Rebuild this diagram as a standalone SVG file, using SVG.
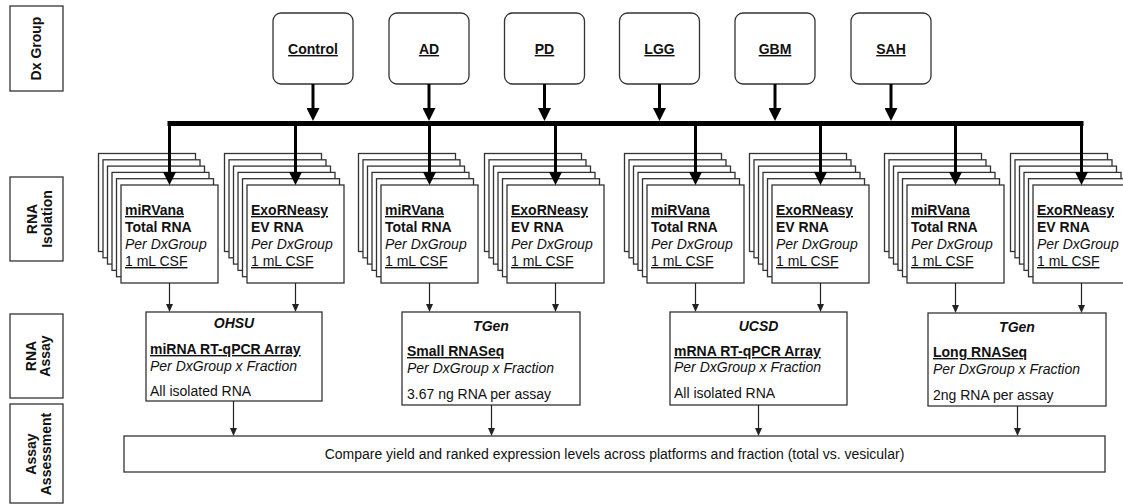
<svg xmlns="http://www.w3.org/2000/svg" xmlns:xlink="http://www.w3.org/1999/xlink" width="1123" height="504" viewBox="0 0 1123 504">
<style>
  text { font-family: "Liberation Sans", Arial, Helvetica, sans-serif; font-size: 14px; fill: #111; }
  .b { font-weight: bold; }
  .i { font-style: italic; }
  .bi { font-weight: bold; font-style: italic; }
  .u { text-decoration: underline; }
  .mid { text-anchor: middle; }
  .box { fill: #fff; stroke: #333; stroke-width: 1.3; }
  .lbl { fill: #fff; stroke: #333; stroke-width: 1.3; }
  .thick { stroke: #000; stroke-width: 3; fill: none; }
  .thin { stroke: #222; stroke-width: 1.2; fill: none; }
  .bus { stroke: #000; stroke-width: 5; fill: none; }
</style>
<defs>
  <marker id="bigHead" markerUnits="userSpaceOnUse" markerWidth="13" markerHeight="13" refX="0" refY="6.5" orient="auto">
    <path d="M0,0 L13,6.5 L0,13 z" fill="#000"/>
  </marker>
  <marker id="smallHead" markerUnits="userSpaceOnUse" markerWidth="8" markerHeight="7" refX="0" refY="3.5" orient="auto">
    <path d="M0,0 L8,3.5 L0,7 z" fill="#222"/>
  </marker>
  <g id="stack">
    <rect class="box" x="-22.5" y="-31.5" width="97" height="98"/>
    <rect class="box" x="-18" y="-25.2" width="97" height="98"/>
    <rect class="box" x="-13.5" y="-18.9" width="97" height="98"/>
    <rect class="box" x="-9" y="-12.6" width="97" height="98"/>
    <rect class="box" x="-4.5" y="-6.3" width="97" height="98"/>
    <rect class="box" x="0" y="0" width="97" height="98"/>
  </g>
</defs>

<rect width="1123" height="504" fill="#fff"/>

<!-- Row labels -->
<g id="label-dx">
  <rect class="lbl" x="10" y="6" width="53" height="85"/>
  <text class="b mid" transform="translate(41,48.5) rotate(-90)">Dx Group</text>
</g>
<g id="label-isolation">
  <rect class="lbl" x="10" y="177" width="53" height="84"/>
  <text class="b mid" transform="translate(37,219) rotate(-90)">RNA</text>
  <text class="b mid" transform="translate(52,219) rotate(-90)">Isolation</text>
</g>
<g id="label-assay">
  <rect class="lbl" x="10" y="314" width="53" height="84"/>
  <text class="b mid" transform="translate(36,356) rotate(-90)">RNA</text>
  <text class="b mid" transform="translate(50,356) rotate(-90)">Assay</text>
</g>
<g id="label-assessment">
  <rect class="lbl" x="10" y="404" width="53" height="99"/>
  <text class="b mid" transform="translate(36,454) rotate(-90)">Assay</text>
  <text class="b mid" transform="translate(51,454) rotate(-90)">Assessment</text>
</g>

<!-- Dx group nodes -->
<g id="node-control"><rect class="box" x="273" y="13" width="80" height="71" rx="8"/><text class="b u mid" x="313" y="54">Control</text></g>
<g id="node-ad"><rect class="box" x="389" y="13" width="80" height="71" rx="8"/><text class="b u mid" x="429" y="54">AD</text></g>
<g id="node-pd"><rect class="box" x="504.5" y="13" width="80" height="71" rx="8"/><text class="b u mid" x="544.5" y="54">PD</text></g>
<g id="node-lgg"><rect class="box" x="619.5" y="13" width="80" height="71" rx="8"/><text class="b u mid" x="659.5" y="54">LGG</text></g>
<g id="node-gbm"><rect class="box" x="735" y="13" width="80" height="71" rx="8"/><text class="b u mid" x="775" y="54">GBM</text></g>
<g id="node-sah"><rect class="box" x="851" y="13" width="80" height="71" rx="8"/><text class="b u mid" x="891" y="54">SAH</text></g>

<!-- RNA isolation stacks -->
<g id="iso-1"><use xlink:href="#stack" x="121" y="185"/>
  <text x="125" y="215" class="b u">miRVana</text><text x="125" y="232" class="b">Total RNA</text><text x="125" y="249" class="i">Per DxGroup</text><text x="125" y="266" class="u">1 mL CSF</text></g>
<g id="iso-2"><use xlink:href="#stack" x="247" y="185"/>
  <text x="251" y="215" class="b u">ExoRNeasy</text><text x="251" y="232" class="b">EV RNA</text><text x="251" y="249" class="i">Per DxGroup</text><text x="251" y="266" class="u">1 mL CSF</text></g>
<g id="iso-3"><use xlink:href="#stack" x="381" y="185"/>
  <text x="385" y="215" class="b u">miRVana</text><text x="385" y="232" class="b">Total RNA</text><text x="385" y="249" class="i">Per DxGroup</text><text x="385" y="266" class="u">1 mL CSF</text></g>
<g id="iso-4"><use xlink:href="#stack" x="507" y="185"/>
  <text x="511" y="215" class="b u">ExoRNeasy</text><text x="511" y="232" class="b">EV RNA</text><text x="511" y="249" class="i">Per DxGroup</text><text x="511" y="266" class="u">1 mL CSF</text></g>
<g id="iso-5"><use xlink:href="#stack" x="647" y="185"/>
  <text x="651" y="215" class="b u">miRVana</text><text x="651" y="232" class="b">Total RNA</text><text x="651" y="249" class="i">Per DxGroup</text><text x="651" y="266" class="u">1 mL CSF</text></g>
<g id="iso-6"><use xlink:href="#stack" x="772" y="185"/>
  <text x="776" y="215" class="b u">ExoRNeasy</text><text x="776" y="232" class="b">EV RNA</text><text x="776" y="249" class="i">Per DxGroup</text><text x="776" y="266" class="u">1 mL CSF</text></g>
<g id="iso-7"><use xlink:href="#stack" x="907" y="185"/>
  <text x="911" y="215" class="b u">miRVana</text><text x="911" y="232" class="b">Total RNA</text><text x="911" y="249" class="i">Per DxGroup</text><text x="911" y="266" class="u">1 mL CSF</text></g>
<g id="iso-8"><use xlink:href="#stack" x="1033" y="185"/>
  <text x="1037" y="215" class="b u">ExoRNeasy</text><text x="1037" y="232" class="b">EV RNA</text><text x="1037" y="249" class="i">Per DxGroup</text><text x="1037" y="266" class="u">1 mL CSF</text></g>

<!-- RNA assay boxes -->
<g id="assay-ohsu"><rect class="box" x="146" y="312" width="176" height="89"/>
  <text class="bi mid" x="234" y="328">OHSU</text>
  <text class="b u" x="150" y="354">miRNA RT-qPCR Array</text>
  <text class="i" x="150" y="371">Per DxGroup x Fraction</text>
  <text x="150" y="396">All isolated RNA</text></g>
<g id="assay-tgen-small"><rect class="box" x="402" y="312" width="178" height="93"/>
  <text class="bi mid" x="491" y="331">TGen</text>
  <text class="b u" x="407" y="356">Small RNASeq</text>
  <text class="i" x="407" y="373">Per DxGroup x Fraction</text>
  <text x="407" y="399">3.67 ng RNA per assay</text></g>
<g id="assay-ucsd"><rect class="box" x="670" y="312" width="177" height="93"/>
  <text class="bi mid" x="758.5" y="331">UCSD</text>
  <text class="b u" x="674" y="356">mRNA RT-qPCR Array</text>
  <text class="i" x="674" y="372">Per DxGroup x Fraction</text>
  <text x="674" y="398">All isolated RNA</text></g>
<g id="assay-tgen-long"><rect class="box" x="928" y="313" width="178" height="93"/>
  <text class="bi mid" x="1017" y="332">TGen</text>
  <text class="b u" x="933" y="357">Long RNASeq</text>
  <text class="i" x="933" y="374">Per DxGroup x Fraction</text>
  <text x="933" y="400">2ng RNA per assay</text></g>

<!-- Assessment -->
<g id="assessment"><rect class="box" x="124" y="436" width="981" height="36"/>
  <text class="mid" x="614.5" y="459">Compare yield and ranked expression levels across platforms and fraction (total vs. vesicular)</text></g>

<!-- Connectors -->
<g id="connectors">
  <line class="bus" x1="167.5" y1="123.5" x2="1083.5" y2="123.5"/>
  <line class="thick" x1="313" y1="84" x2="313" y2="108" marker-end="url(#bigHead)"/>
  <line class="thick" x1="429" y1="84" x2="429" y2="108" marker-end="url(#bigHead)"/>
  <line class="thick" x1="544.5" y1="84" x2="544.5" y2="108" marker-end="url(#bigHead)"/>
  <line class="thick" x1="659.5" y1="84" x2="659.5" y2="108" marker-end="url(#bigHead)"/>
  <line class="thick" x1="775" y1="84" x2="775" y2="108" marker-end="url(#bigHead)"/>
  <line class="thick" x1="891" y1="84" x2="891" y2="108" marker-end="url(#bigHead)"/>

  <line class="thick" x1="169.5" y1="123" x2="169.5" y2="172" marker-end="url(#bigHead)"/>
  <line class="thick" x1="295.5" y1="123" x2="295.5" y2="172" marker-end="url(#bigHead)"/>
  <line class="thick" x1="429.5" y1="123" x2="429.5" y2="172" marker-end="url(#bigHead)"/>
  <line class="thick" x1="555.5" y1="123" x2="555.5" y2="172" marker-end="url(#bigHead)"/>
  <line class="thick" x1="695.5" y1="123" x2="695.5" y2="172" marker-end="url(#bigHead)"/>
  <line class="thick" x1="820.5" y1="123" x2="820.5" y2="172" marker-end="url(#bigHead)"/>
  <line class="thick" x1="955.5" y1="123" x2="955.5" y2="172" marker-end="url(#bigHead)"/>
  <line class="thick" x1="1081.5" y1="123" x2="1081.5" y2="172" marker-end="url(#bigHead)"/>

  <line class="thin" x1="169.5" y1="283" x2="169.5" y2="304" marker-end="url(#smallHead)"/>
  <line class="thin" x1="295.5" y1="283" x2="295.5" y2="304" marker-end="url(#smallHead)"/>
  <line class="thin" x1="429.5" y1="283" x2="429.5" y2="304" marker-end="url(#smallHead)"/>
  <line class="thin" x1="555.5" y1="283" x2="555.5" y2="304" marker-end="url(#smallHead)"/>
  <line class="thin" x1="695.5" y1="283" x2="695.5" y2="304" marker-end="url(#smallHead)"/>
  <line class="thin" x1="820.5" y1="283" x2="820.5" y2="304" marker-end="url(#smallHead)"/>
  <line class="thin" x1="955.5" y1="283" x2="955.5" y2="305" marker-end="url(#smallHead)"/>
  <line class="thin" x1="1081.5" y1="283" x2="1081.5" y2="305" marker-end="url(#smallHead)"/>

  <line class="thin" x1="233.5" y1="401" x2="233.5" y2="428" marker-end="url(#smallHead)"/>
  <line class="thin" x1="491.5" y1="405" x2="491.5" y2="428" marker-end="url(#smallHead)"/>
  <line class="thin" x1="758.5" y1="405" x2="758.5" y2="428" marker-end="url(#smallHead)"/>
  <line class="thin" x1="1017.5" y1="406" x2="1017.5" y2="428" marker-end="url(#smallHead)"/>
</g>
</svg>
